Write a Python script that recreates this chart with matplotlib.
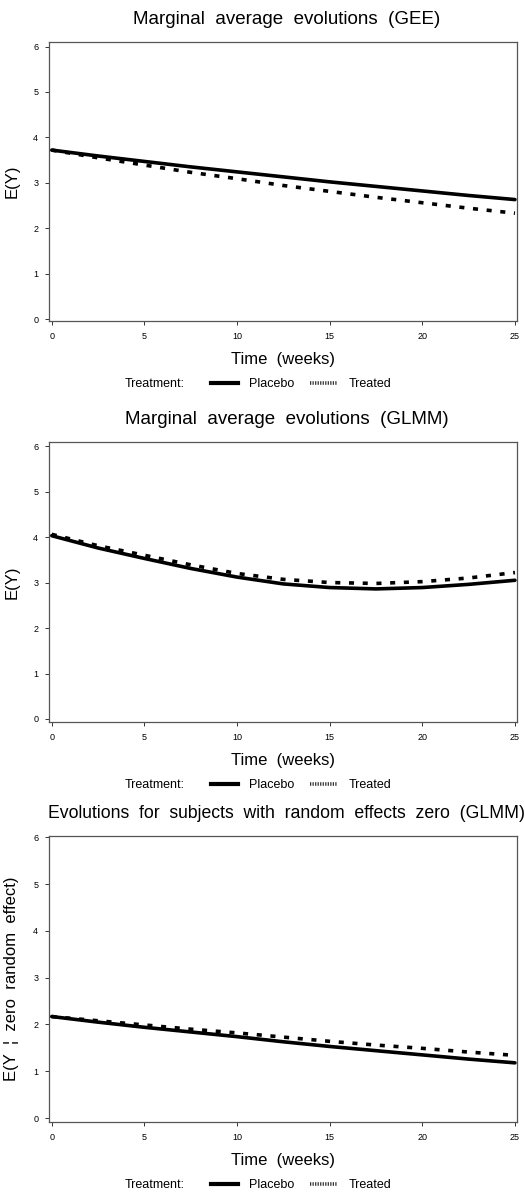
import matplotlib
matplotlib.use('Agg')
import matplotlib.pyplot as plt
from matplotlib.lines import Line2D

plt.rcParams['font.family'] = ['Liberation Sans', 'DejaVu Sans']

# time grid (weeks)
weeks = [0, 2.5, 5, 7.5, 10, 12.5, 15, 17.5, 20, 22.5, 25]

# GEE marginal evolutions
gee_placebo = [3.72, 3.59, 3.47, 3.35, 3.24, 3.13, 3.02, 2.92, 2.82, 2.72, 2.63]
gee_treated = [3.72, 3.55, 3.39, 3.23, 3.09, 2.94, 2.81, 2.68, 2.56, 2.44, 2.33]

# GLMM marginal evolutions
glmm_placebo = [4.03, 3.76, 3.53, 3.31, 3.12, 2.97, 2.89, 2.86, 2.89, 2.96, 3.05]
glmm_treated = [4.06, 3.81, 3.60, 3.39, 3.20, 3.07, 3.00, 2.98, 3.02, 3.10, 3.22]

# GLMM subject-specific, random effects zero
re0_placebo = [2.17, 2.05, 1.94, 1.84, 1.74, 1.63, 1.53, 1.44, 1.35, 1.26, 1.18]
re0_treated = [2.17, 2.08, 1.99, 1.90, 1.82, 1.73, 1.64, 1.56, 1.49, 1.41, 1.34]

titles = ['Marginal  average  evolutions  (GEE)',
          'Marginal  average  evolutions  (GLMM)',
          'Evolutions  for  subjects  with  random  effects  zero  (GLMM)']
title_sizes = [13.5, 13.5, 12.7]
ylabels = ['E(Y)', 'E(Y)', 'E(Y  \u00a6  zero  random  effect)']
series = [(gee_placebo, gee_treated), (glmm_placebo, glmm_treated), (re0_placebo, re0_treated)]

W, H = 525, 1192
fig = plt.figure(figsize=(W / 100, H / 100), dpi=100)

# (top, bottom) of each axes box in pixels
boxes = [(42, 321), (442, 722), (836, 1122)]
ylims = [(-0.044, 6.10), (-0.066, 6.09), (-0.085, 6.03)]
left, right = 49.3, 517

dash = (0, (1.4, 2.4))

for i, (top, bot) in enumerate(boxes):
    ax = fig.add_axes([left / W, 1 - bot / H, (right - left) / W, (bot - top) / H])
    plac, treat = series[i]
    ax.plot(weeks, treat, color='black', lw=2.6, linestyle=dash, solid_capstyle='butt')
    ax.plot(weeks, plac, color='black', lw=2.6, solid_capstyle='round')
    ax.set_xlim(-0.13, 25.11)
    ax.set_ylim(*ylims[i])
    ax.set_xticks([0, 5, 10, 15, 20, 25])
    ax.set_yticks([0, 1, 2, 3, 4, 5, 6])
    ax.tick_params(direction='out', length=3, width=0.7, labelsize=6.5, pad=5, colors='#333333',
                   labelcolor='black')
    for s in ax.spines.values():
        s.set_color('#555555')
        s.set_linewidth(0.9)
    ax.set_xlabel('Time  (weeks)', fontsize=12, labelpad=8)
    ax.set_ylabel(ylabels[i], fontsize=12, labelpad=10)
    ax.set_title(titles[i], fontsize=title_sizes[i], x=0.508, pad=13)

    # legend below the axis
    h = bot - top
    ly = -(63) / h
    ax.text(0.162, ly, 'Treatment:', transform=ax.transAxes, fontsize=9, va='center', ha='left')
    handles = [Line2D([], [], color='black', lw=3.0),
               Line2D([], [], color='#333333', lw=2.6, linestyle=(0, (0.35, 0.35)))]
    ax.legend(handles, ['Placebo', 'Treated'], ncol=2, frameon=False, fontsize=9,
              loc='center left', bbox_to_anchor=(0.345, ly), handlelength=2.2,
              handletextpad=0.9, columnspacing=1.2, borderaxespad=0, borderpad=0)

fig.savefig('out.png', dpi=100)
